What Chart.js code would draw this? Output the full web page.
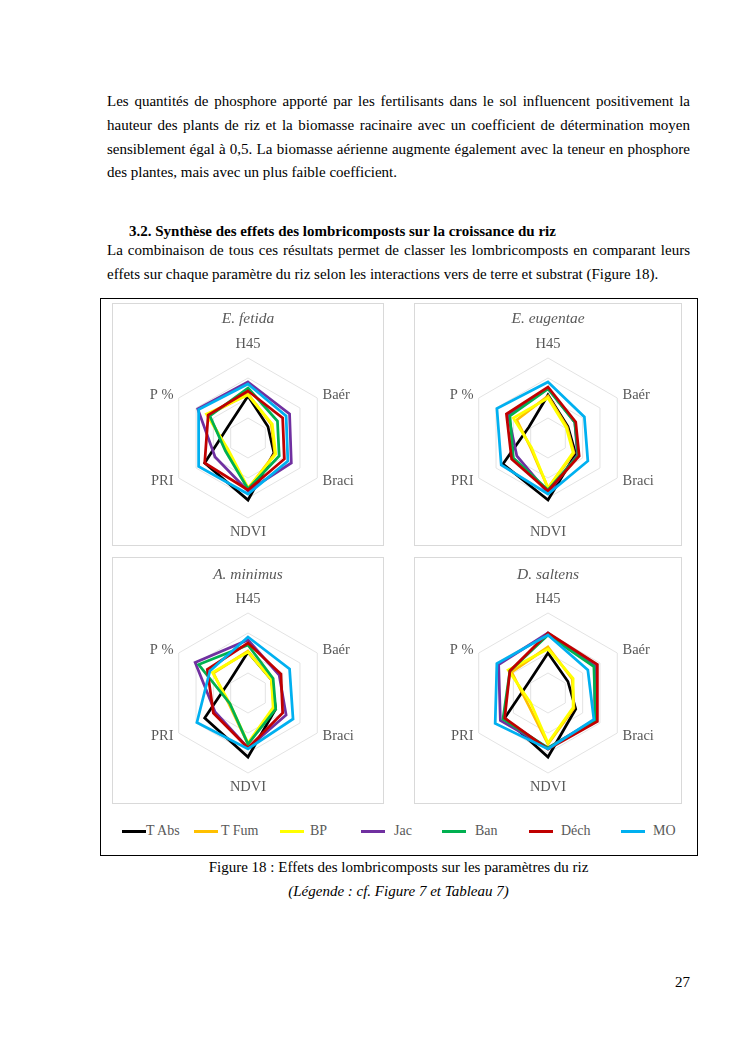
<!DOCTYPE html>
<html>
<head>
<meta charset="utf-8">
<script src="https://cdn.jsdelivr.net/npm/chart.js@4.4.1/dist/chart.umd.min.js"></script>
<style>
  body { margin: 0; background: #fff; }
  #page { position: relative; width: 745px; height: 1053px; font-family: "Liberation Serif", "Times New Roman", serif; color: #000; overflow: hidden; }
  .ln { position: absolute; left: 107px; width: 583px; font-size: 15px; line-height: 24px; white-space: nowrap; }
  .ln.j { text-align: justify; text-align-last: justify; white-space: normal; }
  .fig { position: absolute; left: 100px; top: 298px; width: 598px; height: 558px; border: 1px solid #000; box-sizing: border-box; }
  .panel { position: absolute; border: 1px solid #d9d9d9; box-sizing: border-box; }
  .panel canvas { position: absolute; left: 0; top: 0; }
  .leg { position: absolute; top: 822px; font-size: 14px; line-height: 18px; color: #595959; white-space: nowrap; }
  .sw { position: absolute; top: 830px; height: 3px; width: 24px; }
  .cap { position: absolute; left: 107px; width: 583px; text-align: center; font-size: 15px; line-height: 24px; }
</style>
</head>
<body>
<div id="page">
  <div class="ln j" style="top:89px">Les quantités de phosphore apporté par les fertilisants dans le sol influencent positivement la</div>
  <div class="ln j" style="top:113px">hauteur des plants de riz et la biomasse racinaire avec un coefficient de détermination moyen</div>
  <div class="ln j" style="top:137px">sensiblement égal à 0,5. La biomasse aérienne augmente également avec la teneur en phosphore</div>
  <div class="ln" style="top:160px">des plantes, mais avec un plus faible coefficient.</div>

  <div class="ln" style="top:219px; left:129px; font-weight:bold">3.2. Synthèse des effets des lombricomposts sur la croissance du riz</div>
  <div class="ln j" style="top:238px">La combinaison de tous ces résultats permet de classer les lombricomposts en comparant leurs</div>
  <div class="ln" style="top:262px">effets sur chaque paramètre du riz selon les interactions vers de terre et substrat (Figure 18).</div>

  <div class="fig"></div>
  <div class="panel" style="left:112px; top:303px; width:272px; height:243px"><canvas id="c1" width="270" height="241"></canvas></div>
  <div class="panel" style="left:414px; top:303px; width:268px; height:243px"><canvas id="c2" width="266" height="241"></canvas></div>
  <div class="panel" style="left:112px; top:557px; width:272px; height:247px"><canvas id="c3" width="270" height="245"></canvas></div>
  <div class="panel" style="left:414px; top:557px; width:268px; height:247px"><canvas id="c4" width="266" height="245"></canvas></div>

  <div id="legend"></div>

  <div class="cap" style="top:855px">Figure 18 : Effets des lombricomposts sur les paramètres du riz</div>
  <div class="cap" style="top:879px; font-style:italic">(Légende : cf. Figure 7 et Tableau 7)</div>

  <div class="ln" style="top:970px; left:650px; width:40px; text-align:right">27</div>
</div>

<script>
// axes of every radar, clockwise from the top
const axes = ['H45', 'Baér', 'Braci', 'NDVI', 'PRI', 'P %'];
const treatments = ['T Abs', 'T Fum', 'BP', 'Jac', 'Ban', 'Déch', 'MO'];
const colors = ['#000000', '#FFC000', '#FFFF00', '#7030A0', '#00B050', '#C00000', '#00B0F0'];
const species = ['E. fetida', 'E. eugentae', 'A. minimus', 'D. saltens'];

// one row per treatment (same order as treatments), values per axis
const fetida = [
  [2.1, 1.15, 1.5, 3.1, 2.5, 1.15],
  [2.2, 1.35, 1.55, 2.55, 1.2, 2.3],
  [2.15, 1.4, 1.6, 2.5, 1.15, 2.4],
  [2.8, 2.4, 2.5, 2.65, 1.9, 2.9],
  [2.5, 1.7, 1.8, 2.55, 1.3, 2.2],
  [2.35, 2.0, 2.1, 2.6, 2.5, 2.3],
  [2.7, 2.2, 2.3, 2.8, 2.85, 2.85]
];
const eugentae = [
  [2.15, 1.15, 1.6, 3.1, 2.6, 1.1],
  [2.1, 1.1, 1.5, 2.5, 1.0, 1.8],
  [2.0, 1.05, 1.45, 2.5, 0.95, 2.0],
  [2.5, 1.55, 1.7, 2.75, 1.8, 2.3],
  [2.45, 1.55, 1.75, 2.6, 2.0, 2.2],
  [2.55, 1.6, 1.8, 2.65, 2.1, 2.4],
  [2.8, 2.1, 2.3, 2.8, 2.7, 2.95]
];
const minimus = [
  [2.05, 1.35, 1.6, 3.2, 2.5, 1.1],
  [2.1, 1.35, 1.5, 2.55, 1.1, 2.0],
  [2.05, 1.35, 1.45, 2.5, 1.05, 2.05],
  [2.65, 1.8, 2.2, 2.75, 1.9, 3.05],
  [2.4, 1.45, 1.6, 2.55, 1.05, 2.85],
  [2.5, 1.9, 2.0, 2.75, 2.0, 2.35],
  [2.8, 2.4, 2.6, 2.8, 2.95, 2.2]
];
const saltens = [
  [2.0, 1.15, 1.6, 3.2, 2.5, 1.1],
  [2.3, 1.4, 1.5, 2.55, 1.15, 2.1],
  [2.2, 1.45, 1.45, 2.5, 1.0, 2.3],
  [3.0, 2.7, 2.7, 2.75, 2.75, 2.85],
  [2.9, 2.65, 2.75, 2.75, 2.6, 2.2],
  [3.0, 2.85, 2.85, 2.8, 2.5, 2.2],
  [2.9, 2.3, 2.65, 2.8, 3.05, 2.95]
];

const serif = '"Liberation Serif", "Times New Roman", serif';

// Excel-style axis names: centred vertically on the spoke end for the side axes
const axisLabels = {
  id: 'axisLabels',
  afterDraw(chart) {
    const scale = chart.scales.r;
    const ctx = chart.ctx;
    ctx.save();
    ctx.font = '14.5px ' + serif;
    ctx.fillStyle = '#595959';
    ctx.textBaseline = 'middle';
    chart.data.labels.forEach((lab, i) => {
      const p = scale.getPointPosition(i, scale.drawingArea + 6);
      const dx = p.x - scale.xCenter;
      let y = p.y;
      if (Math.abs(dx) < 1) {
        ctx.textAlign = 'center';
        y += p.y < scale.yCenter ? -8 : 8;
      } else {
        ctx.textAlign = dx > 0 ? 'left' : 'right';
      }
      ctx.fillText(lab, p.x, y);
    });
    ctx.restore();
  }
};

function radar(id, title, rows, pad) {
  const ctx = document.getElementById(id).getContext('2d');
  return new Chart(ctx, {
    type: 'radar',
    data: {
      labels: axes,
      datasets: rows.map((vals, i) => ({
        label: treatments[i],
        data: vals,
        borderColor: colors[i],
        backgroundColor: colors[i],
        borderWidth: 2.75,
        fill: false,
        pointRadius: 0,
        tension: 0,
        order: treatments.length - i
      }))
    },
    options: {
      responsive: false,
      animation: false,
      layout: { padding: { bottom: pad.bottom } },
      plugins: {
        legend: { display: false },
        tooltip: { enabled: false },
        title: {
          display: true,
          text: title,
          color: '#595959',
          font: { family: serif, size: 15.5, style: 'italic', weight: 'normal' },
          padding: { top: pad.top, bottom: pad.gap }
        }
      },
      scales: {
        r: {
          min: 0,
          max: 4,
          ticks: { display: false, stepSize: 1 },
          angleLines: { display: false },
          grid: { color: '#e3e3e3', lineWidth: 1 },
          pointLabels: {
            color: 'rgba(0,0,0,0)',
            padding: 5,
            font: { family: serif, size: 14.5 }
          }
        }
      }
    },
    plugins: [axisLabels]
  });
}

radar('c1', species[0], fetida, { top: 6, gap: 7, bottom: 4 });
radar('c2', species[1], eugentae, { top: 6, gap: 7, bottom: 4 });
radar('c3', species[2], minimus, { top: 8, gap: 6, bottom: 7 });
radar('c4', species[3], saltens, { top: 8, gap: 6, bottom: 7 });

// legend under the four radars
const swatchX = [122, 194, 280, 361, 442, 529, 621];
const textX = [146, 221, 310, 394, 475, 561, 653];
const legend = document.getElementById('legend');
treatments.forEach((t, i) => {
  const sw = document.createElement('div');
  sw.className = 'sw';
  sw.style.left = swatchX[i] + 'px';
  sw.style.background = colors[i];
  legend.appendChild(sw);
  const tx = document.createElement('div');
  tx.className = 'leg';
  tx.style.left = textX[i] + 'px';
  tx.textContent = t;
  legend.appendChild(tx);
});
</script>
</body>
</html>
